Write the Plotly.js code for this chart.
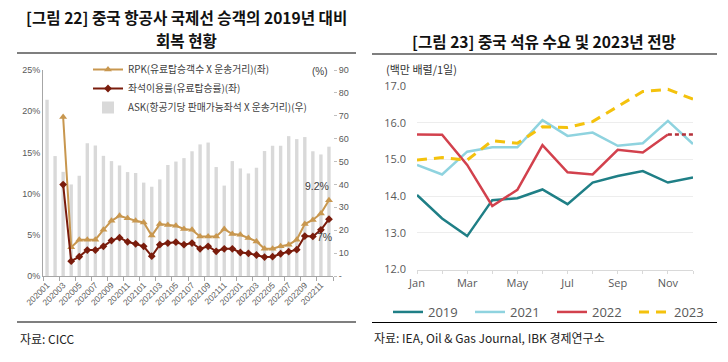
<!DOCTYPE html>
<html><head><meta charset="utf-8">
<script src="https://cdn.plot.ly/plotly-3.0.1.min.js"></script>
<style>html,body{margin:0;padding:0;background:#fff}</style>
</head><body>
<div id="chart" style="width:728px;height:362px"></div>
<script>
// ---- Figure 22 data ----
const months22 = ['202001','202002','202003','202004','202005','202006','202007','202008','202009','202010','202011','202012',
  '202101','202102','202103','202104','202105','202106','202107','202108','202109','202110','202111','202112',
  '202201','202202','202203','202204','202205','202206','202207','202208','202209','202210','202211','202212'];
const rpk = [null,null,19.3,3.5,4.4,4.4,4.4,5.6,6.7,7.3,7.0,6.7,6.5,4.9,6.3,6.2,6.1,5.7,5.6,4.8,4.8,4.8,5.7,5.1,5.0,4.6,4.2,3.3,3.3,3.6,3.8,4.4,6.3,6.8,7.6,9.2];
const loadFactor = [null,null,11.1,1.8,2.35,3.15,3.15,3.6,4.3,4.65,4.15,3.9,3.6,2.4,3.8,4.0,4.1,3.8,4.0,3.3,3.6,3.0,3.3,3.3,2.85,2.75,2.55,2.3,2.35,2.7,2.95,3.2,4.85,4.8,5.6,6.9];
const ask = [77,52.4,45.5,40,43.8,58,57,52.5,50.2,48.3,45.4,45,40.8,39,42.2,48.5,50,51.5,54.5,57.5,58.3,47.6,39.5,50.2,47,44.8,47.3,54.6,56.9,56.9,61.1,59.8,60.7,54.5,53.1,56.5];
const names22 = ['RPK(유료탑승객수 X 운송거리)(좌)','좌석이용률(유료탑승률)(좌)','ASK(항공기당 판매가능좌석 X 운송거리)(우)'];
const leftTicks = [0,5,10,15,20,25];
const leftTickText = ['0%','5%','10%','15%','20%','25%'];
const rightTicks = [0,10,20,30,40,50,60,70,80,90];
const rightTickText = ['-','10','20','30','40','50','60','70','80','90'];

// ---- Figure 23 data ----
const months23 = ['Jan','Feb','Mar','Apr','May','Jun','Jul','Aug','Sep','Oct','Nov','Dec'];
const monthLabels23 = ['Jan','','Mar','','May','','Jul','','Sep','','Nov',''];
const d2019 = [14.03,13.39,12.91,13.89,13.94,14.18,13.78,14.37,14.55,14.68,14.37,14.51];
const d2021 = [14.85,14.59,15.21,15.33,15.33,16.07,15.64,15.73,15.37,15.44,16.05,15.42];
const d2022 = [15.68,15.67,14.85,13.73,14.17,15.39,14.65,14.59,15.26,15.19,15.68,15.68];
const d2023 = [14.98,15.05,14.98,15.51,15.44,15.89,15.87,16.03,16.44,16.85,16.91,16.64];
const yTicks23 = [12,13,14,15,16,17];

const W = 728, H = 362;
const px = v => v / W, py = v => 1 - v / H;
const KR = 'Noto Sans CJK KR';
const NARROW = 'Liberation Sans Narrow, Liberation Sans, Arial';
const last = months22.length - 1;

const traces = [
  {type:'bar', x: months22, y: ask, name: names22[2], xaxis:'x', yaxis:'y',
   marker:{color:'#d9d9d9'}, legend:'legend', legendrank:3, hoverinfo:'skip'},
  {type:'scatter', mode:'lines+markers', x: months22, y: rpk, name: names22[0], xaxis:'x', yaxis:'y2',
   line:{color:'#c8974f', width:2}, marker:{symbol:'triangle-up', size:7, color:'#c8974f'},
   legend:'legend', legendrank:1},
  {type:'scatter', mode:'lines+markers', x: months22, y: loadFactor, name: names22[1], xaxis:'x', yaxis:'y2',
   line:{color:'#7a1c0c', width:2}, marker:{symbol:'diamond', size:6, color:'#7a1c0c'},
   legend:'legend', legendrank:2},
  {type:'scatter', mode:'lines', x: months23, y: d2019, name:'2019', xaxis:'x2', yaxis:'y3',
   line:{color:'#1f7f86', width:2.5}, legend:'legend2'},
  {type:'scatter', mode:'lines', x: months23, y: d2021, name:'2021', xaxis:'x2', yaxis:'y3',
   line:{color:'#8fd3df', width:2.5}, legend:'legend2'},
  {type:'scatter', mode:'lines', x: months23.slice(0,11), y: d2022.slice(0,11), name:'2022', xaxis:'x2', yaxis:'y3',
   line:{color:'#d2414d', width:2.5}, legend:'legend2'},
  {type:'scatter', mode:'lines', x: months23.slice(10), y: d2022.slice(10), name:'2022e', xaxis:'x2', yaxis:'y3',
   line:{color:'#b5303a', width:2.5, dash:'4px,3px'}, showlegend:false},
  {type:'scatter', mode:'lines', x: months23, y: d2023, name:'2023', xaxis:'x2', yaxis:'y3',
   line:{color:'#f4c20d', width:3, dash:'10px,7px'}, legend:'legend2'}
];

const layout = {
  width: W, height: H, margin:{l:0,r:0,t:0,b:0}, paper_bgcolor:'#fff', plot_bgcolor:'rgba(0,0,0,0)',
  bargap: 0.58,
  xaxis:{domain:[px(43), px(333)], anchor:'y', type:'category', categoryorder:'array', categoryarray: months22,
    range:[-0.5, last + 0.5], autorange:false,
    showline:true, linecolor:'#a6a6a6', linewidth:1, ticks:'outside', ticklen:4, tickcolor:'#a6a6a6',
    tickson:'boundaries', dtick:2, tick0:0, tickangle:-45, showgrid:false,
    tickfont:{family:NARROW, size:8.5, color:'#595959'}},
  yaxis:{domain:[py(276), py(70)], anchor:'x', side:'right', range:[0,90],
    tickvals: rightTicks, ticktext: rightTickText, showgrid:false, zeroline:false,
    ticks:'outside', ticklen:3, tickcolor:'#bfbfbf', showline:false,
    tickfont:{family:NARROW, size:9, color:'#595959'}},
  yaxis2:{overlaying:'y', side:'left', anchor:'x', range:[0,25],
    tickvals: leftTicks, ticktext: leftTickText, showgrid:false, zeroline:false,
    showline:true, linecolor:'#a6a6a6', ticks:'',
    tickfont:{family:NARROW, size:9, color:'#595959'}},
  xaxis2:{domain:[px(417), px(693)], anchor:'y3', type:'category', categoryorder:'array', categoryarray: months23,
    range:[0,11], tickvals: months23, ticktext: monthLabels23, showgrid:false,
    showline:true, linecolor:'#d9d9d9', ticks:'outside', ticklen:3, tickcolor:'#d9d9d9',
    tickfont:{family:'Open Sans', size:11, color:'#595959'}},
  yaxis3:{domain:[py(269.5), py(86)], anchor:'x2', range:[12,17], tickvals: yTicks23, tickformat:'.1f',
    showgrid:true, gridcolor:'#ededed', zeroline:false, showline:false, ticks:'', ticklabelstandoff:10,
    tickfont:{family:'Open Sans', size:11, color:'#595959'}},
  legend:{x:px(88), y:py(55), xanchor:'left', yanchor:'top', bgcolor:'rgba(0,0,0,0)',
    font:{family:KR, size:9.8, color:'#404040'}, itemwidth:30, tracegroupgap:0, traceorder:'normal'},
  legend2:{orientation:'h', x:px(388), y:py(297), xanchor:'left', yanchor:'top', bgcolor:'rgba(0,0,0,0)',
    font:{family:'Open Sans', size:13, color:'#595959'}, entrywidth:37, entrywidthmode:'pixels'},
  shapes:[
    {type:'line', xref:'paper', yref:'paper', x0:px(17), x1:px(356), y0:py(53), y1:py(53), line:{color:'#000', width:1.2}},
    {type:'line', xref:'paper', yref:'paper', x0:px(17), x1:px(356), y0:py(322), y1:py(322), line:{color:'#000', width:1.2}},
    {type:'line', xref:'paper', yref:'paper', x0:px(372), x1:px(717), y0:py(54), y1:py(54), line:{color:'#000', width:1.2}},
    {type:'line', xref:'paper', yref:'paper', x0:px(372), x1:px(717), y0:py(322.5), y1:py(322.5), line:{color:'#000', width:1.2}}
  ],
  annotations:[
    {xref:'paper', yref:'paper', x:px(186), y:py(17), text:'[그림 22] 중국 항공사 국제선 승객의 2019년 대비', showarrow:false,
     xanchor:'center', yanchor:'middle', font:{family:KR, size:15.6, color:'#111', weight:'bold'}},
    {xref:'paper', yref:'paper', x:px(186), y:py(40), text:'회복 현황', showarrow:false,
     xanchor:'center', yanchor:'middle', font:{family:KR, size:15.6, color:'#111', weight:'bold'}},
    {xref:'paper', yref:'paper', x:px(544), y:py(41), text:'[그림 23] 중국 석유 수요 및 2023년 전망', showarrow:false,
     xanchor:'center', yanchor:'middle', font:{family:KR, size:15.6, color:'#111', weight:'bold'}},
    {xref:'paper', yref:'paper', x:px(18), y:py(338.5), text:'자료: CICC', showarrow:false,
     xanchor:'left', yanchor:'middle', font:{family:KR, size:12, color:'#222'}},
    {xref:'paper', yref:'paper', x:px(372), y:py(337), text:'자료: IEA, Oil &amp; Gas Journal, IBK 경제연구소', showarrow:false,
     xanchor:'left', yanchor:'middle', font:{family:KR, size:12, color:'#222'}},
    {xref:'paper', yref:'paper', x:px(330), y:py(71), text:'(%)', showarrow:false,
     xanchor:'right', yanchor:'middle', font:{family:NARROW, size:10, color:'#404040'}},
    {xref:'paper', yref:'paper', x:px(384), y:py(69), text:'(백만 배렬/1일)', showarrow:false,
     xanchor:'left', yanchor:'middle', font:{family:KR, size:11, color:'#333'}},
    {xref:'x', yref:'y2', x: last, y: rpk[last], text: rpk[last].toFixed(1)+'%', showarrow:false,
     xanchor:'right', yanchor:'bottom', yshift:6, xshift:2, font:{family:NARROW, size:10.5, color:'#404040'}},
    {xref:'x', yref:'y2', x: last, y: loadFactor[last], text: Math.round(loadFactor[last])+'%', showarrow:false,
     xanchor:'center', yanchor:'top', yshift:-10, xshift:-4, font:{family:NARROW, size:10.5, color:'#404040'}}
  ]
};

Plotly.newPlot('chart', traces, layout, {displayModeBar:false, staticPlot:true});
</script>
</body></html>
